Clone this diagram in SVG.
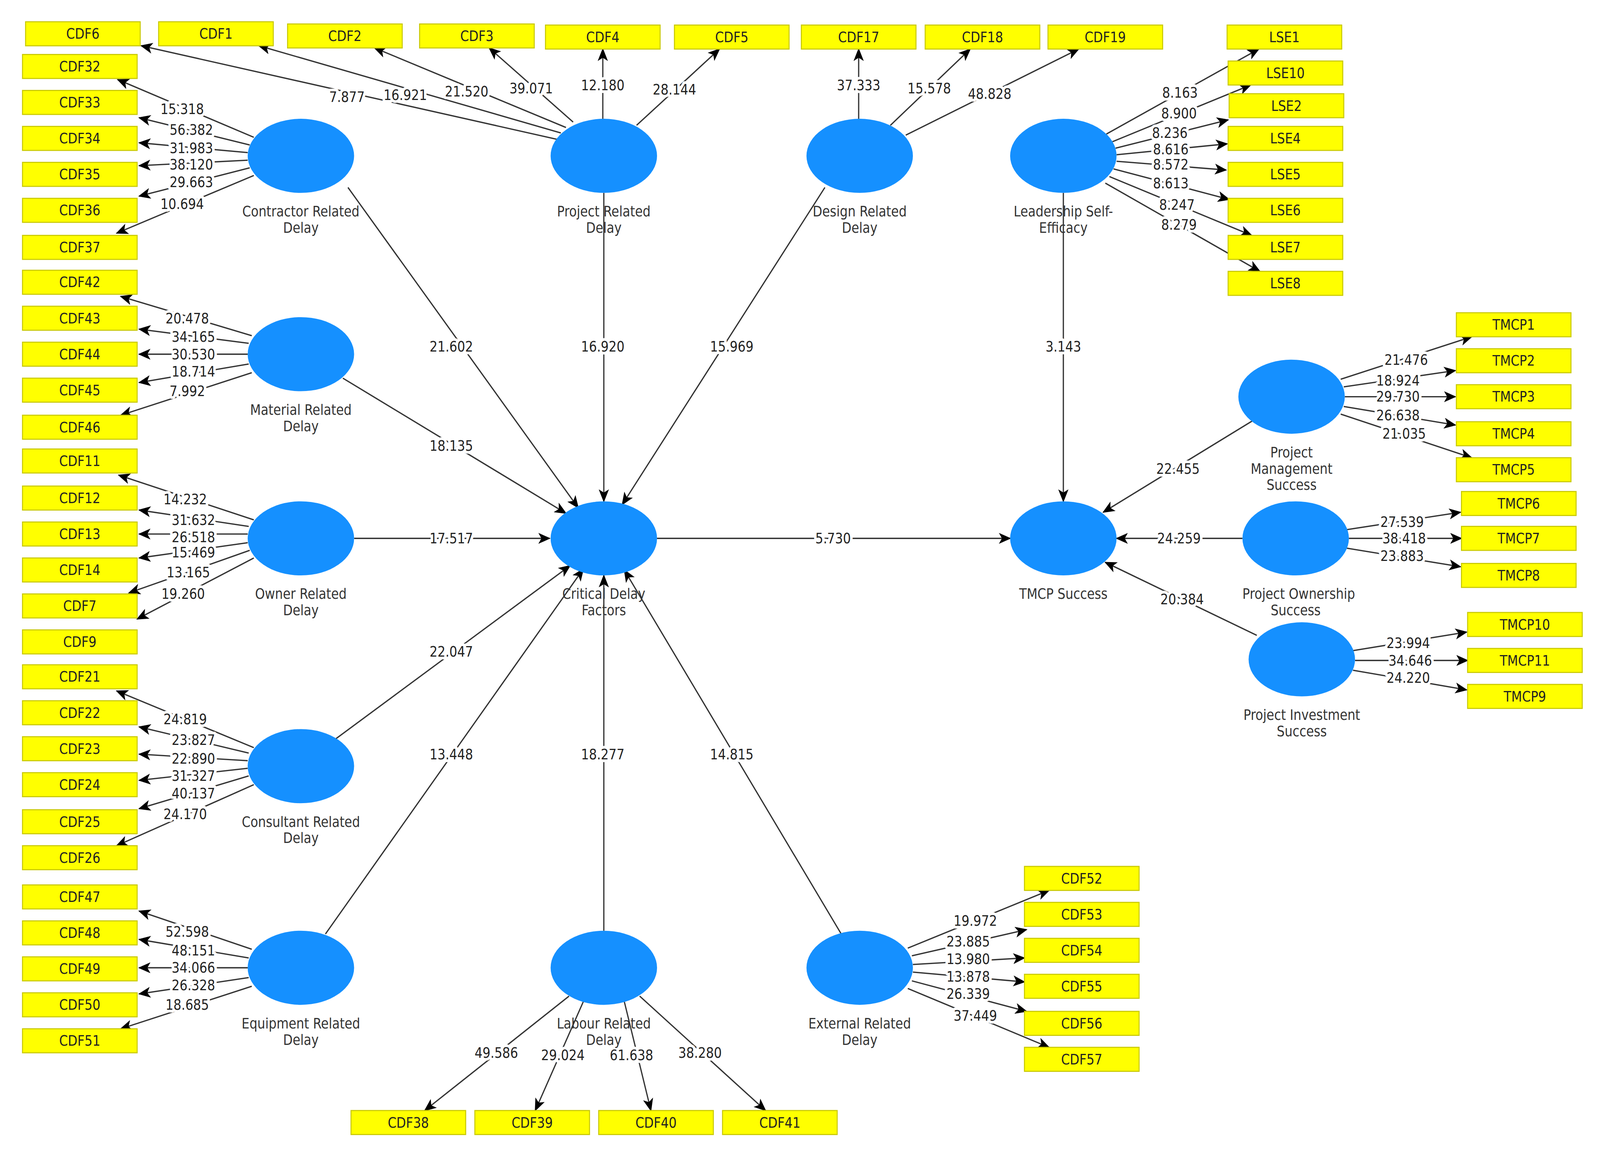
<svg xmlns="http://www.w3.org/2000/svg" width="4412" height="2985" viewBox="0 0 4412 2985">
<style>
.b rect{fill:#ffff00;stroke:#c9c900;stroke-width:1}
.b text,.c text{font-family:"DejaVu Sans Condensed","DejaVu Sans",sans-serif;font-size:13.5px;fill:#222;text-anchor:middle;dominant-baseline:central}
.c ellipse{fill:#1590ff}
.c text{fill:#333}
#connectors line{stroke:#333;stroke-width:1.2;marker-end:url(#ah)}
#labels text{font-family:"DejaVu Sans Condensed","DejaVu Sans",sans-serif;font-size:13.5px;fill:#222;text-anchor:middle;dominant-baseline:central;stroke:#fff;stroke-width:5px;stroke-linejoin:round;paint-order:stroke fill}
</style>
<defs>
<marker id="ah" markerUnits="userSpaceOnUse" markerWidth="12" markerHeight="10" refX="11" refY="5" orient="auto"><path d="M0,0 L12,5 L0,10 L3,5 Z" fill="#000"/></marker>
</defs>
<rect width="4412" height="2985" fill="#fff"/>
<g transform="scale(2.62,2.79)">
<g id="connectors">
<line x1="248" y1="126" x2="115" y2="73"/><line x1="244" y1="133" x2="136" y2="108"/><line x1="242" y1="140" x2="136" y2="131"/><line x1="242" y1="147" x2="136" y2="152"/><line x1="244" y1="154" x2="136" y2="180"/><line x1="248" y1="161" x2="114" y2="214"/>
<line x1="545" y1="128" x2="138" y2="42"/><line x1="548" y1="122" x2="253" y2="42"/><line x1="553" y1="117" x2="366" y2="44"/><line x1="560" y1="112" x2="478" y2="44"/><line x1="589" y1="109" x2="589" y2="45"/><line x1="622" y1="115" x2="703" y2="45"/>
<line x1="839" y1="109" x2="839" y2="45"/><line x1="870" y1="115" x2="948" y2="45"/><line x1="885" y1="124" x2="1054" y2="45"/>
<line x1="1081" y1="123" x2="1230" y2="45"/><line x1="1087" y1="130" x2="1222" y2="78"/><line x1="1090" y1="136" x2="1200" y2="110"/><line x1="1091" y1="142" x2="1199" y2="132"/><line x1="1091" y1="148" x2="1198" y2="156"/><line x1="1088" y1="155" x2="1201" y2="183"/><line x1="1084" y1="162" x2="1223" y2="216"/><line x1="1080" y1="168" x2="1231" y2="249"/>
<line x1="246" y1="308" x2="118" y2="272"/><line x1="243" y1="315" x2="136" y2="302"/><line x1="242" y1="325" x2="136" y2="325"/><line x1="243" y1="334" x2="136" y2="351"/><line x1="246" y1="342" x2="118" y2="381"/>
<line x1="248" y1="477" x2="116" y2="436"/><line x1="243" y1="483" x2="136" y2="468"/><line x1="242" y1="490" x2="136" y2="490"/><line x1="242" y1="498" x2="136" y2="512"/><line x1="244" y1="505" x2="126" y2="544"/><line x1="248" y1="512" x2="134" y2="568"/>
<line x1="248" y1="686" x2="114" y2="634"/><line x1="243" y1="691" x2="136" y2="667"/><line x1="242" y1="698" x2="136" y2="692"/><line x1="242" y1="705" x2="136" y2="716"/><line x1="243" y1="712" x2="136" y2="742"/><line x1="248" y1="720" x2="114" y2="776"/>
<line x1="246" y1="871" x2="136" y2="836"/><line x1="243" y1="879" x2="136" y2="862"/><line x1="242" y1="888" x2="136" y2="888"/><line x1="243" y1="897" x2="136" y2="912"/><line x1="246" y1="905" x2="118" y2="944"/>
<line x1="556" y1="914" x2="415" y2="1019"/><line x1="570" y1="919" x2="523" y2="1019"/><line x1="610" y1="919" x2="636" y2="1019"/><line x1="625" y1="914" x2="748" y2="1019"/>
<line x1="887" y1="870" x2="1025" y2="817"/><line x1="891" y1="877" x2="1003" y2="853"/><line x1="892" y1="885" x2="1001" y2="879"/><line x1="892" y1="892" x2="1001" y2="901"/><line x1="891" y1="900" x2="1003" y2="928"/><line x1="887" y1="907" x2="1025" y2="961"/>
<line x1="1310" y1="348" x2="1438" y2="309"/><line x1="1313" y1="355" x2="1422" y2="340"/><line x1="1314" y1="364" x2="1422" y2="364"/><line x1="1313" y1="373" x2="1422" y2="390"/><line x1="1310" y1="380" x2="1438" y2="420"/>
<line x1="1316" y1="486" x2="1427" y2="470"/><line x1="1318" y1="494" x2="1428" y2="494"/><line x1="1316" y1="503" x2="1427" y2="520"/>
<line x1="1322" y1="597" x2="1433" y2="580"/><line x1="1324" y1="606" x2="1434" y2="606"/><line x1="1322" y1="615" x2="1433" y2="633"/>
<line x1="340" y1="172" x2="565" y2="466"/><line x1="590" y1="177" x2="590" y2="460"/><line x1="806" y1="172" x2="608" y2="463"/><line x1="335" y1="347" x2="553" y2="471"/><line x1="346" y1="494" x2="537" y2="494"/><line x1="328" y1="678" x2="557" y2="519"/><line x1="318" y1="857" x2="570" y2="522"/><line x1="590" y1="854" x2="590" y2="528"/><line x1="822" y1="857" x2="610" y2="523"/>
<line x1="642" y1="494" x2="987" y2="494"/><line x1="1039" y1="177" x2="1039" y2="460"/><line x1="1224" y1="386" x2="1078" y2="470"/><line x1="1214" y1="494" x2="1091" y2="494"/><line x1="1228" y1="583" x2="1080" y2="516"/>
</g>
<g id="labels">
<text x="178" y="100">15.318</text><text x="187" y="119">56.382</text><text x="187" y="136">31.983</text><text x="187" y="151">38.120</text><text x="187" y="167">29.663</text><text x="178" y="187">10.694</text>
<text x="339" y="89">7.877</text><text x="396" y="87">16.921</text><text x="456" y="84">21.520</text><text x="519" y="81">39.071</text><text x="589" y="78">12.180</text><text x="659" y="82">28.144</text>
<text x="839" y="78">37.333</text><text x="908" y="81">15.578</text><text x="967" y="86">48.828</text>
<text x="1153" y="85">8.163</text><text x="1152" y="104">8.900</text><text x="1143" y="122">8.236</text><text x="1144" y="137">8.616</text><text x="1144" y="151">8.572</text><text x="1144" y="168">8.613</text><text x="1150" y="188">8.247</text><text x="1152" y="206">8.279</text>
<text x="183" y="292">20.478</text><text x="189" y="309">34.165</text><text x="189" y="325">30.530</text><text x="189" y="341">18.714</text><text x="183" y="359">7.992</text>
<text x="181" y="458">14.232</text><text x="189" y="477">31.632</text><text x="189" y="493">26.518</text><text x="189" y="507">15.469</text><text x="184" y="525">13.165</text><text x="179" y="545">19.260</text>
<text x="181" y="660">24.819</text><text x="189" y="679">23.827</text><text x="189" y="696">22.890</text><text x="189" y="712">31.327</text><text x="189" y="728">40.137</text><text x="181" y="747">24.170</text>
<text x="183" y="855">52.598</text><text x="189" y="872">48.151</text><text x="189" y="888">34.066</text><text x="189" y="904">26.328</text><text x="183" y="922">18.685</text>
<text x="485" y="966">49.586</text><text x="550" y="968">29.024</text><text x="617" y="968">61.638</text><text x="684" y="966">38.280</text>
<text x="953" y="845">19.972</text><text x="946" y="864">23.885</text><text x="946" y="880">13.980</text><text x="946" y="896">13.878</text><text x="946" y="912">26.339</text><text x="953" y="932">37.449</text>
<text x="1374" y="330">21.476</text><text x="1366" y="349">18.924</text><text x="1366" y="364">29.730</text><text x="1366" y="381">26.638</text><text x="1372" y="398">21.035</text>
<text x="1370" y="479">27.539</text><text x="1372" y="494">38.418</text><text x="1370" y="510">23.883</text>
<text x="1376" y="590">23.994</text><text x="1378" y="606">34.646</text><text x="1376" y="622">24.220</text>
<text x="441" y="318">21.602</text><text x="589" y="318">16.920</text><text x="715" y="318">15.969</text><text x="441" y="409">18.135</text><text x="441" y="494">17.517</text><text x="441" y="598">22.047</text><text x="441" y="692">13.448</text><text x="589" y="692">18.277</text><text x="715" y="692">14.815</text>
<text x="814" y="494">5.730</text><text x="1039" y="318">3.143</text><text x="1151" y="430">22.455</text><text x="1152" y="494">24.259</text><text x="1155" y="550">20.384</text>
</g>
<g class="c">
<g id="contractor"><ellipse cx="294" cy="143" rx="52" ry="34"/><text x="294" y="194">Contractor Related</text><text x="294" y="209">Delay</text></g>
<g id="project"><ellipse cx="590" cy="143" rx="52" ry="34"/><text x="590" y="194">Project Related</text><text x="590" y="209">Delay</text></g>
<g id="design"><ellipse cx="840" cy="143" rx="52" ry="34"/><text x="840" y="194">Design Related</text><text x="840" y="209">Delay</text></g>
<g id="lse"><ellipse cx="1039" cy="143" rx="52" ry="34"/><text x="1039" y="194">Leadership Self-</text><text x="1039" y="209">Efficacy</text></g>
<g id="material"><ellipse cx="294" cy="325" rx="52" ry="34"/><text x="294" y="376">Material Related</text><text x="294" y="391">Delay</text></g>
<g id="owner"><ellipse cx="294" cy="494" rx="52" ry="34"/><text x="294" y="545">Owner Related</text><text x="294" y="560">Delay</text></g>
<g id="critical"><ellipse cx="590" cy="494" rx="52" ry="34"/><text x="590" y="545">Critical Delay</text><text x="590" y="560">Factors</text></g>
<g id="consultant"><ellipse cx="294" cy="703" rx="52" ry="34"/><text x="294" y="754">Consultant Related</text><text x="294" y="769">Delay</text></g>
<g id="equipment"><ellipse cx="294" cy="888" rx="52" ry="34"/><text x="294" y="939">Equipment Related</text><text x="294" y="954">Delay</text></g>
<g id="labour"><ellipse cx="590" cy="888" rx="52" ry="34"/><text x="590" y="939">Labour Related</text><text x="590" y="954">Delay</text></g>
<g id="external"><ellipse cx="840" cy="888" rx="52" ry="34"/><text x="840" y="939">External Related</text><text x="840" y="954">Delay</text></g>
<g id="tmcp"><ellipse cx="1039" cy="494" rx="52" ry="34"/><text x="1039" y="545">TMCP Success</text></g>
<g id="pm"><ellipse cx="1262" cy="364" rx="52" ry="34"/><text x="1262" y="415">Project</text><text x="1262" y="430">Management</text><text x="1262" y="445">Success</text></g>
<g id="ownership"><ellipse cx="1266" cy="494" rx="52" ry="34"/><text x="1269" y="545">Project Ownership</text><text x="1266" y="560">Success</text></g>
<g id="investment"><ellipse cx="1272" cy="605" rx="52" ry="34"/><text x="1272" y="656">Project Investment</text><text x="1272" y="671">Success</text></g>
</g>
<g class="b">
<g id="b-CDF6"><rect x="25" y="20" width="112" height="22"/><text x="81" y="31">CDF6</text></g>
<g id="b-CDF1"><rect x="155" y="20" width="112" height="22"/><text x="211" y="31">CDF1</text></g>
<g id="b-CDF2"><rect x="281" y="22" width="112" height="22"/><text x="337" y="33">CDF2</text></g>
<g id="b-CDF3"><rect x="410" y="22" width="112" height="22"/><text x="466" y="33">CDF3</text></g>
<g id="b-CDF4"><rect x="533" y="23" width="112" height="22"/><text x="589" y="34">CDF4</text></g>
<g id="b-CDF5"><rect x="659" y="23" width="112" height="22"/><text x="715" y="34">CDF5</text></g>
<g id="b-CDF17"><rect x="783" y="23" width="112" height="22"/><text x="839" y="34">CDF17</text></g>
<g id="b-CDF18"><rect x="904" y="23" width="112" height="22"/><text x="960" y="34">CDF18</text></g>
<g id="b-CDF19"><rect x="1024" y="23" width="112" height="22"/><text x="1080" y="34">CDF19</text></g>
<g id="b-LSE1"><rect x="1199" y="23" width="112" height="22"/><text x="1255" y="34">LSE1</text></g>
<g id="b-LSE10"><rect x="1200" y="56" width="112" height="22"/><text x="1256" y="67">LSE10</text></g>
<g id="b-LSE2"><rect x="1201" y="86" width="112" height="22"/><text x="1257" y="97">LSE2</text></g>
<g id="b-LSE4"><rect x="1200" y="116" width="112" height="22"/><text x="1256" y="127">LSE4</text></g>
<g id="b-LSE5"><rect x="1200" y="149" width="112" height="22"/><text x="1256" y="160">LSE5</text></g>
<g id="b-LSE6"><rect x="1200" y="182" width="112" height="22"/><text x="1256" y="193">LSE6</text></g>
<g id="b-LSE7"><rect x="1200" y="216" width="112" height="22"/><text x="1256" y="227">LSE7</text></g>
<g id="b-LSE8"><rect x="1200" y="249" width="112" height="22"/><text x="1256" y="260">LSE8</text></g>
<g id="b-CDF32"><rect x="22" y="50" width="112" height="22"/><text x="78" y="61">CDF32</text></g>
<g id="b-CDF33"><rect x="22" y="83" width="112" height="22"/><text x="78" y="94">CDF33</text></g>
<g id="b-CDF34"><rect x="22" y="116" width="112" height="22"/><text x="78" y="127">CDF34</text></g>
<g id="b-CDF35"><rect x="22" y="149" width="112" height="22"/><text x="78" y="160">CDF35</text></g>
<g id="b-CDF36"><rect x="22" y="182" width="112" height="22"/><text x="78" y="193">CDF36</text></g>
<g id="b-CDF37"><rect x="22" y="216" width="112" height="22"/><text x="78" y="227">CDF37</text></g>
<g id="b-CDF42"><rect x="22" y="248" width="112" height="22"/><text x="78" y="259">CDF42</text></g>
<g id="b-CDF43"><rect x="22" y="281" width="112" height="22"/><text x="78" y="292">CDF43</text></g>
<g id="b-CDF44"><rect x="22" y="314" width="112" height="22"/><text x="78" y="325">CDF44</text></g>
<g id="b-CDF45"><rect x="22" y="347" width="112" height="22"/><text x="78" y="358">CDF45</text></g>
<g id="b-CDF46"><rect x="22" y="381" width="112" height="22"/><text x="78" y="392">CDF46</text></g>
<g id="b-CDF11"><rect x="22" y="412" width="112" height="22"/><text x="78" y="423">CDF11</text></g>
<g id="b-CDF12"><rect x="22" y="446" width="112" height="22"/><text x="78" y="457">CDF12</text></g>
<g id="b-CDF13"><rect x="22" y="479" width="112" height="22"/><text x="78" y="490">CDF13</text></g>
<g id="b-CDF14"><rect x="22" y="512" width="112" height="22"/><text x="78" y="523">CDF14</text></g>
<g id="b-CDF7"><rect x="22" y="545" width="112" height="22"/><text x="78" y="556">CDF7</text></g>
<g id="b-CDF9"><rect x="22" y="578" width="112" height="22"/><text x="78" y="589">CDF9</text></g>
<g id="b-CDF21"><rect x="22" y="610" width="112" height="22"/><text x="78" y="621">CDF21</text></g>
<g id="b-CDF22"><rect x="22" y="643" width="112" height="22"/><text x="78" y="654">CDF22</text></g>
<g id="b-CDF23"><rect x="22" y="676" width="112" height="22"/><text x="78" y="687">CDF23</text></g>
<g id="b-CDF24"><rect x="22" y="709" width="112" height="22"/><text x="78" y="720">CDF24</text></g>
<g id="b-CDF25"><rect x="22" y="743" width="112" height="22"/><text x="78" y="754">CDF25</text></g>
<g id="b-CDF26"><rect x="22" y="776" width="112" height="22"/><text x="78" y="787">CDF26</text></g>
<g id="b-CDF47"><rect x="22" y="812" width="112" height="22"/><text x="78" y="823">CDF47</text></g>
<g id="b-CDF48"><rect x="22" y="845" width="112" height="22"/><text x="78" y="856">CDF48</text></g>
<g id="b-CDF49"><rect x="22" y="878" width="112" height="22"/><text x="78" y="889">CDF49</text></g>
<g id="b-CDF50"><rect x="22" y="911" width="112" height="22"/><text x="78" y="922">CDF50</text></g>
<g id="b-CDF51"><rect x="22" y="944" width="112" height="22"/><text x="78" y="955">CDF51</text></g>
<g id="b-CDF38"><rect x="343" y="1019" width="112" height="22"/><text x="399" y="1030">CDF38</text></g>
<g id="b-CDF39"><rect x="464" y="1019" width="112" height="22"/><text x="520" y="1030">CDF39</text></g>
<g id="b-CDF40"><rect x="585" y="1019" width="112" height="22"/><text x="641" y="1030">CDF40</text></g>
<g id="b-CDF41"><rect x="706" y="1019" width="112" height="22"/><text x="762" y="1030">CDF41</text></g>
<g id="b-CDF52"><rect x="1001" y="795" width="112" height="22"/><text x="1057" y="806">CDF52</text></g>
<g id="b-CDF53"><rect x="1001" y="828" width="112" height="22"/><text x="1057" y="839">CDF53</text></g>
<g id="b-CDF54"><rect x="1001" y="861" width="112" height="22"/><text x="1057" y="872">CDF54</text></g>
<g id="b-CDF55"><rect x="1001" y="894" width="112" height="22"/><text x="1057" y="905">CDF55</text></g>
<g id="b-CDF56"><rect x="1001" y="928" width="112" height="22"/><text x="1057" y="939">CDF56</text></g>
<g id="b-CDF57"><rect x="1001" y="961" width="112" height="22"/><text x="1057" y="972">CDF57</text></g>
<g id="b-TMCP1"><rect x="1423" y="287" width="112" height="22"/><text x="1479" y="298">TMCP1</text></g>
<g id="b-TMCP2"><rect x="1423" y="320" width="112" height="22"/><text x="1479" y="331">TMCP2</text></g>
<g id="b-TMCP3"><rect x="1423" y="353" width="112" height="22"/><text x="1479" y="364">TMCP3</text></g>
<g id="b-TMCP4"><rect x="1423" y="387" width="112" height="22"/><text x="1479" y="398">TMCP4</text></g>
<g id="b-TMCP5"><rect x="1423" y="420" width="112" height="22"/><text x="1479" y="431">TMCP5</text></g>
<g id="b-TMCP6"><rect x="1428" y="451" width="112" height="22"/><text x="1484" y="462">TMCP6</text></g>
<g id="b-TMCP7"><rect x="1428" y="483" width="112" height="22"/><text x="1484" y="494">TMCP7</text></g>
<g id="b-TMCP8"><rect x="1428" y="517" width="112" height="22"/><text x="1484" y="528">TMCP8</text></g>
<g id="b-TMCP10"><rect x="1434" y="562" width="112" height="22"/><text x="1490" y="573">TMCP10</text></g>
<g id="b-TMCP11"><rect x="1434" y="595" width="112" height="22"/><text x="1490" y="606">TMCP11</text></g>
<g id="b-TMCP9"><rect x="1434" y="628" width="112" height="22"/><text x="1490" y="639">TMCP9</text></g>
</g>
</g>
</svg>
